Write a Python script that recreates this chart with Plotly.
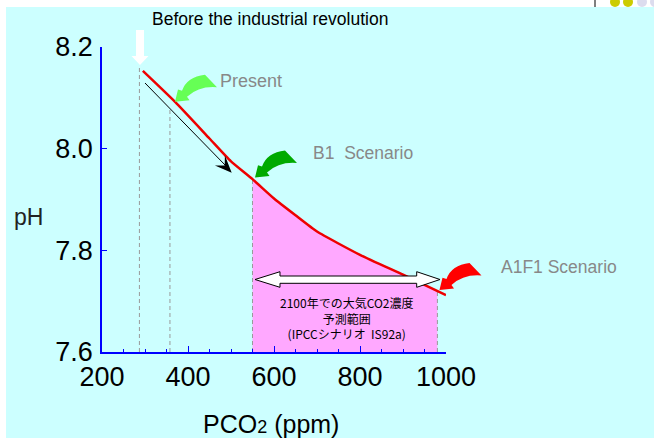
import numpy as np
import plotly.graph_objects as go

# ---------------- data ----------------
co2_ppm = [295, 370, 450, 500, 550, 600, 650, 700, 800, 900, 1000]
ph_vals = [8.153, 8.092, 8.020, 7.975, 7.940, 7.902, 7.869, 7.837, 7.791, 7.752, 7.712]
scenario_range = [550, 980]          # IS92a 2100 CO2 range (ppm)
preindustrial_ppm = 287
preindustrial_top = 8.16
present_ppm = 358
present_top = 8.08
x_ticks = [200, 400, 600, 800, 1000]
y_ticks = [7.6, 7.8, 8.0, 8.2]

# ---------------- geometry helpers (pixel -> paper) ----------------
W_FIG, H_FIG = 654, 438
L, R, T, B = 102, 446, 47, 352
PW, PH = R - L, B - T


def P(px, py):
    return (px - L) / PW, (B - py) / PH


def pstr(px, py):
    x, y = P(px, py)
    return f"{x:.5f},{y:.5f}"


def poly(pts):
    s = "M " + pstr(*pts[0])
    for p in pts[1:]:
        s += " L " + pstr(*p)
    return s + " Z"


def curved_arrow(tx, ty):
    s = "M " + pstr(tx, ty)
    s += " L " + pstr(tx + 3, ty - 12.3)
    s += " L " + pstr(tx + 7, ty - 11)
    s += " Q " + pstr(tx + 12, ty - 25) + " " + pstr(tx + 30, ty - 27)
    s += " L " + pstr(tx + 42, ty - 14.5)
    s += " Q " + pstr(tx + 24, ty - 16) + " " + pstr(tx + 12, ty - 5)
    s += " L " + pstr(tx + 14.5, ty - 1.5)
    return s + " Z"


fig = go.Figure()

# pink scenario fill (under curve)
xs_in = [x for x in co2_ppm if scenario_range[0] < x < scenario_range[1]]
fx = [scenario_range[0]] + xs_in + [scenario_range[1]]
fy = list(np.interp(fx, co2_ppm, ph_vals))
fig.add_trace(go.Scatter(
    x=fx + [scenario_range[1], scenario_range[0]],
    y=fy + [7.6, 7.6],
    fill="toself", fillcolor="#FFA8FF", mode="lines",
    line=dict(width=0), hoverinfo="skip", showlegend=False))

# dashed verticals
dash_x = [preindustrial_ppm, present_ppm, scenario_range[0], scenario_range[1]]
dash_top = [preindustrial_top, present_top,
            float(np.interp(scenario_range[0], co2_ppm, ph_vals)),
            float(np.interp(scenario_range[1], co2_ppm, ph_vals))]
for xv, yt in zip(dash_x, dash_top):
    fig.add_trace(go.Scatter(x=[xv, xv], y=[7.6, yt], mode="lines",
                             line=dict(color="#999999", width=1, dash="4px,3px"),
                             hoverinfo="skip", showlegend=False))

# red pH curve
fig.add_trace(go.Scatter(x=co2_ppm, y=ph_vals, mode="lines",
                         line=dict(color="#EE0000", width=2.5, shape="spline", smoothing=0.5),
                         showlegend=False))

shapes = []
# cyan background
x0, y0 = P(6, 438)
x1, y1 = P(654, 7)
shapes.append(dict(type="rect", xref="paper", yref="paper", x0=x0, y0=y0 - 0.01, x1=x1 + 0.01, y1=y1,
                   fillcolor="#CCFFFF", line=dict(width=0), layer="below"))
# top-right decorations
xa, ya = P(595, 0)
xb, yb = P(595, 7)
shapes.append(dict(type="line", xref="paper", yref="paper", x0=xa, y0=ya, x1=xb, y1=yb,
                   line=dict(color="black", width=1), layer="below"))
for cx, col in [(615, "#CCCC00"), (628, "#CCCC00"), (642, "#DCDCEE"), (655, "#DCDCEE")]:
    ax0, ay0 = P(cx - 5, 7)
    ax1, ay1 = P(cx + 5, -3)
    shapes.append(dict(type="circle", xref="paper", yref="paper", x0=ax0, y0=ay0, x1=ax1, y1=ay1,
                       fillcolor=col, line=dict(width=0), layer="below"))

# white down arrow (pre-industrial)
shapes.append(dict(type="path", xref="paper", yref="paper",
                   path=poly([(136, 30), (144, 30), (144, 56), (148.5, 56), (140, 65), (131.5, 56), (136, 56)]),
                   fillcolor="white", line=dict(width=0)))

# curved block arrows
for (tx, ty), col in [((175, 101.7), "#66FF55"), ((255, 177.5), "#00AA00"), ((439.5, 290), "#FF0000")]:
    shapes.append(dict(type="path", xref="paper", yref="paper", path=curved_arrow(tx, ty),
                       fillcolor=col, line=dict(width=0)))

# black arrow
bx0, by0 = P(145, 83)
bx1, by1 = P(226, 166)
shapes.append(dict(type="line", xref="paper", yref="paper", x0=bx0, y0=by0, x1=bx1, y1=by1,
                   line=dict(color="black", width=1)))
shapes.append(dict(type="path", xref="paper", yref="paper",
                   path=poly([(231.7, 172.7), (214.9, 165.4), (224.7, 165.5), (224.9, 155.6)]),
                   fillcolor="black", line=dict(width=0)))

# white double arrow
shapes.append(dict(type="path", xref="paper", yref="paper",
                   path=poly([(255, 279.5), (280, 271.7), (280, 276), (416.7, 276), (416.7, 271.7),
                              (440, 279.5), (416.7, 287.3), (416.7, 283.3), (280, 283.3), (280, 287.3)]),
                   fillcolor="white", line=dict(color="black", width=1)))

# ---------------- annotations ----------------
ann = []


def text(s, px, py, size, color="black", xanchor="center", family="Liberation Sans, Arial, sans-serif"):
    x, y = P(px, py)
    ann.append(dict(text=s, x=x, y=y, xref="paper", yref="paper", xanchor=xanchor, yanchor="middle",
                    showarrow=False, font=dict(size=size, color=color, family=family)))


text("Before the industrial revolution", 270, 19, 17.5)
text("Present", 218, 81, 18, "#888888", "left")
text("B1\u00a0\u00a0Scenario", 311, 153, 17.5, "#888888", "left")
text("A1F1 Scenario", 499, 267, 17.5, "#888888", "left")
text("pH", 12, 217, 23, "#222222", "left")
text("PCO<span style='font-size:18px'>2</span> (ppm)", 271, 424, 25)
jp = "Noto Sans CJK JP, sans-serif"
text("2100年での大気CO2濃度<br>予測範囲<br>(IPCCシナリオ\u00a0\u00a0IS92a)", 346, 318, 12, family=jp)

tickfont = dict(family="Liberation Sans Narrow, Arial Narrow, Liberation Sans, Arial, sans-serif",
                size=27, color="black")

fig.update_layout(
    width=W_FIG, height=H_FIG,
    margin=dict(l=L, r=W_FIG - R, t=T, b=H_FIG - B, pad=0),
    paper_bgcolor="white", plot_bgcolor="rgba(0,0,0,0)",
    shapes=shapes, annotations=ann, showlegend=False,
    xaxis=dict(range=[200, 1000], tickvals=x_ticks, ticks="inside", ticklen=6, tickcolor="#0000FF",
               tickwidth=1, showline=True, linecolor="#0000FF", linewidth=1.5, showgrid=False,
               zeroline=False, tickfont=tickfont, automargin=False, ticklabelstandoff=0,
               minor=dict(dtick=50, ticks="inside", ticklen=3, tickcolor="#0000FF", tickwidth=1,
                          showgrid=False)),
    yaxis=dict(range=[7.6, 8.2], tickvals=y_ticks, ticktext=["7.6", "7.8", "8.0", "8.2"],
               ticks="inside", ticklen=5, tickcolor="#0000FF", tickwidth=1,
               showline=True, linecolor="#0000FF", linewidth=1.5, showgrid=False, zeroline=False,
               tickfont=tickfont, automargin=False, ticklabelstandoff=2),
)

fig.write_html("out.html")
